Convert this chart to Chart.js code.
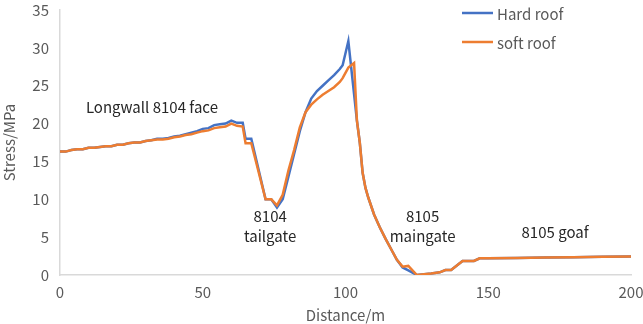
<!DOCTYPE html>
<html>
<head>
<meta charset="utf-8">
<script src="https://cdn.jsdelivr.net/npm/chart.js@4.4.0/dist/chart.umd.min.js"></script>
<style>
  html, body { margin: 0; padding: 0; background: #fff; }
  #wrap { width: 643px; height: 324px; }
</style>
</head>
<body>
<div id="wrap"><canvas id="stressChart"></canvas></div>
<script>
// DATA
const distance = [0, 2, 4, 6, 8, 10, 12, 14, 16, 18, 20, 22, 24, 26, 28, 30, 32, 34, 36, 38, 40,
  42, 44, 46, 48, 50, 52, 54, 56, 58, 60, 62, 64, 65, 67, 72, 74, 76, 78, 80, 82, 84, 86, 88,
  90, 92, 94, 96, 98, 99, 101, 103, 104, 105, 106, 107, 108, 110, 112, 114, 116, 118, 120,
  122, 125, 130, 133, 135, 137, 141, 145, 147, 150, 160, 170, 180, 190, 200];

const hardRoof = [16.3, 16.3, 16.5, 16.6, 16.6, 16.8, 16.8, 16.9, 17.0, 17.0, 17.2, 17.2, 17.4,
  17.5, 17.5, 17.7, 17.8, 18.0, 18.0, 18.1, 18.3, 18.4, 18.6, 18.8, 19.0, 19.3, 19.4, 19.8,
  19.9, 20.0, 20.4, 20.1, 20.1, 18.0, 18.0, 10.0, 10.0, 8.9, 10.0, 13.0, 16.0, 19.0, 21.5,
  23.3, 24.3, 25.0, 25.7, 26.4, 27.2, 27.7, 30.9, 23.9, 20.4, 17.5, 13.5, 11.5, 10.2, 8.0,
  6.3, 4.8, 3.4, 2.0, 1.0, 0.6, 0.0, 0.2, 0.35, 0.65, 0.65, 1.85, 1.85, 2.2, 2.2, 2.25, 2.3,
  2.35, 2.4, 2.45];

const softRoof = [16.3, 16.3, 16.5, 16.6, 16.6, 16.8, 16.8, 16.9, 17.0, 17.0, 17.2, 17.2, 17.4,
  17.5, 17.5, 17.7, 17.8, 17.9, 17.9, 18.0, 18.2, 18.3, 18.5, 18.6, 18.8, 19.0, 19.1, 19.4,
  19.5, 19.6, 20.0, 19.7, 19.6, 17.4, 17.4, 10.0, 10.0, 9.2, 10.6, 13.8, 16.5, 19.5, 21.5,
  22.5, 23.2, 23.8, 24.3, 24.8, 25.5, 26.0, 27.4, 28.0, 20.4, 17.5, 13.5, 11.5, 10.2, 8.0,
  6.3, 4.8, 3.4, 2.0, 1.1, 1.2, 0.0, 0.2, 0.35, 0.65, 0.65, 1.85, 1.85, 2.2, 2.2, 2.25, 2.3,
  2.35, 2.4, 2.45];

const seriesNames = ["Hard roof", "soft roof"];
const seriesColors = ["#4472C4", "#ED7D31"];

// text labels placed on the plot (x, y in data units)
const notes = [
  { text: ["Longwall 8104 face"], x: 32.2, y: 22.2 },
  { text: ["8104", "tailgate"], x: 73.6, y: 7.8 },
  { text: ["8105", "maingate"], x: 127, y: 7.8 },
  { text: ["8105 goaf"], x: 173.4, y: 5.7 }
];

const FONT = "'Noto Sans CJK SC', 'Noto Sans', sans-serif";

function toPoints(vals) {
  return vals.map((v, i) => ({ x: distance[i], y: v }));
}

// NOTES + LEGEND
const notesPlugin = {
  id: "notes",
  afterDatasetsDraw(chart) {
    const { ctx, scales } = chart;
    ctx.save();
    ctx.font = "15px " + FONT;
    ctx.fillStyle = "#262626";
    ctx.textAlign = "center";
    ctx.textBaseline = "middle";
    notes.forEach(n => {
      const px = scales.x.getPixelForValue(n.x);
      const py = scales.y.getPixelForValue(n.y);
      n.text.forEach((t, i) => ctx.fillText(t, px, py + i * 20));
    });

    // legend, top right
    ctx.textAlign = "left";
    ctx.fillStyle = "#595959";
    ctx.lineWidth = 2.5;
    seriesNames.forEach((name, i) => {
      const y = 13 + i * 29;
      ctx.strokeStyle = seriesColors[i];
      ctx.beginPath();
      ctx.moveTo(462, y);
      ctx.lineTo(493, y);
      ctx.stroke();
      ctx.fillText(name, 497, y + 1);
    });
    ctx.restore();
  }
};

const chart = new Chart(document.getElementById("stressChart"), {
  type: "line",
  data: {
    datasets: seriesNames.map((name, i) => ({
      label: name,
      data: toPoints(i === 0 ? hardRoof : softRoof),
      borderColor: seriesColors[i],
      borderWidth: 2.5,
      pointRadius: 0,
      tension: 0,
      fill: false,
      order: i === 0 ? 1 : 0
    }))
  },
  options: {
    responsive: true,
    maintainAspectRatio: false,
    animation: false,
    layout: { padding: { top: 10, right: 12, left: 0, bottom: 0 } },
    plugins: {
      legend: { display: false },
      tooltip: { enabled: false }
    },
    scales: {
      x: {
        type: "linear",
        min: 0,
        max: 200,
        ticks: { stepSize: 50, color: "#595959", padding: 8, font: { family: FONT, size: 15 } },
        grid: { display: false, drawTicks: false },
        border: { display: true, color: "#d9d9d9", width: 1.5 },
        title: {
          display: true,
          text: "Distance/m",
          color: "#595959",
          font: { family: FONT, size: 15 },
          padding: { top: 0, bottom: 0 }
        },
        afterFit: s => {
          s.height = 49;
          s.paddingLeft = 0;
          s.paddingRight = 0;
        }
      },
      y: {
        min: 0,
        max: 35,
        ticks: { stepSize: 5, color: "#595959", padding: 11, font: { family: FONT, size: 15 } },
        grid: { display: false, drawTicks: false },
        border: { display: true, color: "#d9d9d9", width: 1.5 },
        title: {
          display: true,
          text: "Stress/MPa",
          color: "#595959",
          font: { family: FONT, size: 15 },
          padding: { top: 0, bottom: 2 }
        },
        afterFit: s => {
          s.width = 60;
          s.paddingTop = 0;
          s.paddingBottom = 0;
        }
      }
    }
  },
  plugins: [notesPlugin]
});
</script>
</body>
</html>
